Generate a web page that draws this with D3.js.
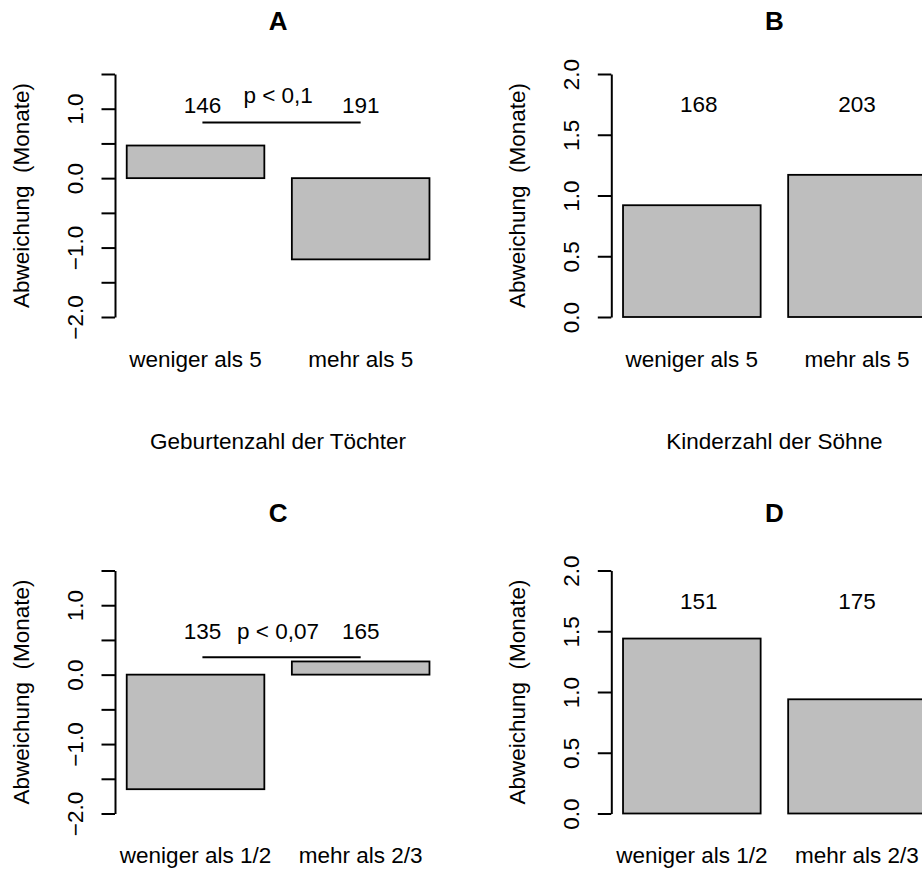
<!DOCTYPE html>
<html>
<head>
<meta charset="utf-8">
<script src="https://cdn.jsdelivr.net/npm/d3@7"></script>
<style>
  body { margin: 0; background: #fff; }
  text { font-family: "Liberation Sans", Arial, Helvetica, sans-serif; fill: #000; }
</style>
</head>
<body>
<script>
// panel data, A B / C D
var titles = ["A", "B", "C", "D"];
var catsTop = ["weniger als 5", "mehr als 5"];
var catsBottom = ["weniger als 1/2", "mehr als 2/3"];
var deviations = [[0.47, -1.17], [0.92, 1.17], [-1.65, 0.19], [1.44, 0.94]];
var counts = [[146, 191], [168, 203], [135, 165], [151, 175]];
var countY = [1.05, 1.75, 0.62, 1.75];
var pLabels = ["p < 0,1", "", "p < 0,07", ""];
var pY = [1.2, null, 0.62, null];
var bracketY = [0.8, null, 0.25, null];
var xTitles = ["Geburtenzahl der Töchter", "Kinderzahl der Söhne", "", ""];
var ticksLeft = [-2, -1.5, -1, -0.5, 0, 0.5, 1, 1.5];
var ticksRight = [0, 0.5, 1, 1.5, 2];
// annotation x positions in barplot units
var countX = [0.75, 1.9];
var pX = 1.3;

var width = 922, height = 872;
var colStep = 496.3, rowStep = 496.5;
var plotLeft = 99.2, plotRight = 457, plotTop = 74, plotBottom = 317;
var axisX = 115;
var fs = 22.5;
var titleY = [30, 25];

var svg = d3.select("body").append("svg")
    .attr("width", width)
    .attr("height", height);

titles.forEach(function(t, i) {
  var col = i % 2, row = Math.floor(i / 2);
  var cats = row == 0 ? catsTop : catsBottom;
  var left = col == 0;
  var g = svg.append("g")
      .attr("transform", `translate(${col * colStep},${row * rowStep})`);

  var u = d3.scaleLinear().domain([0, 2.6]).range([plotLeft, plotRight]);
  var x = d3.scaleBand()
      .domain(cats)
      .range([plotLeft, plotRight])
      .paddingInner(1 / 6)
      .paddingOuter(1 / 6);
  var y = d3.scaleLinear()
      .domain(left ? [-2, 1.5] : [0, 2])
      .range([plotBottom, plotTop]);

  var rows = cats.map(function(c, j) { return {name: c, value: deviations[i][j], n: counts[i][j]}; });

  // bars
  g.append("g")
    .selectAll("rect")
    .data(rows)
    .join("rect")
      .attr("x", d => x(d.name))
      .attr("y", d => y(Math.max(0, d.value)))
      .attr("width", x.bandwidth())
      .attr("height", d => Math.abs(y(d.value) - y(0)))
      .attr("fill", "#bebebe")
      .attr("stroke", "#000")
      .attr("stroke-width", 1.8);

  // y axis
  var ax = g.append("g")
      .attr("transform", `translate(${axisX},0)`)
      .call(d3.axisLeft(y)
        .tickValues(left ? ticksLeft : ticksRight)
        .tickSize(13.5)
        .tickSizeOuter(0)
        .tickFormat(function(v) {
          if (left && v % 1 != 0) return "";
          return d3.format(".1f")(v);
        }));
  ax.select(".domain").attr("stroke-width", 2);
  ax.selectAll(".tick line").attr("stroke-width", 2);
  ax.selectAll(".tick text")
      .attr("x", 0).attr("y", 0).attr("dy", 0)
      .attr("transform", "translate(-32,0) rotate(-90)")
      .attr("text-anchor", "middle")
      .attr("fill", "#000")
      .style("font-size", fs + "px")
      .style("font-family", "Liberation Sans, Arial, sans-serif");

  // y label
  g.append("text")
      .attr("transform", `translate(${axisX - 86},${(plotTop + plotBottom) / 2}) rotate(-90)`)
      .attr("text-anchor", "middle")
      .style("white-space", "pre")
      .style("font-size", fs + "px")
      .text("Abweichung  (Monate)");

  // category labels
  g.selectAll(".cat")
    .data(rows)
    .join("text")
      .attr("class", "cat")
      .attr("x", d => x(d.name) + x.bandwidth() / 2)
      .attr("y", plotBottom + 49.5)
      .attr("text-anchor", "middle")
      .style("font-size", fs + "px")
      .text(d => d.name);

  // title
  g.append("text")
      .attr("x", u(1.3))
      .attr("y", titleY[row])
      .attr("text-anchor", "middle")
      .style("font-size", "26px")
      .style("font-weight", "bold")
      .text(t);

  // x title
  if (xTitles[i]) {
    g.append("text")
        .attr("x", u(1.3))
        .attr("y", 449)
        .attr("text-anchor", "middle")
        .style("font-size", fs + "px")
        .text(xTitles[i]);
  }

  // counts
  g.selectAll(".n")
    .data(rows)
    .join("text")
      .attr("class", "n")
      .attr("x", (d, j) => u(countX[j]))
      .attr("y", y(countY[i]))
      .attr("dy", "0.35em")
      .attr("text-anchor", "middle")
      .style("font-size", fs + "px")
      .text(d => d.n);

  // significance bracket
  if (bracketY[i] != null) {
    g.append("line")
        .attr("x1", u(countX[0]))
        .attr("x2", u(countX[1]))
        .attr("y1", y(bracketY[i]))
        .attr("y2", y(bracketY[i]))
        .attr("stroke", "#000")
        .attr("stroke-width", 2);
    g.append("text")
        .attr("x", u(pX))
        .attr("y", y(pY[i]))
        .attr("dy", "0.35em")
        .attr("text-anchor", "middle")
        .style("font-size", fs + "px")
        .text(pLabels[i]);
  }
});
</script>
</body>
</html>
